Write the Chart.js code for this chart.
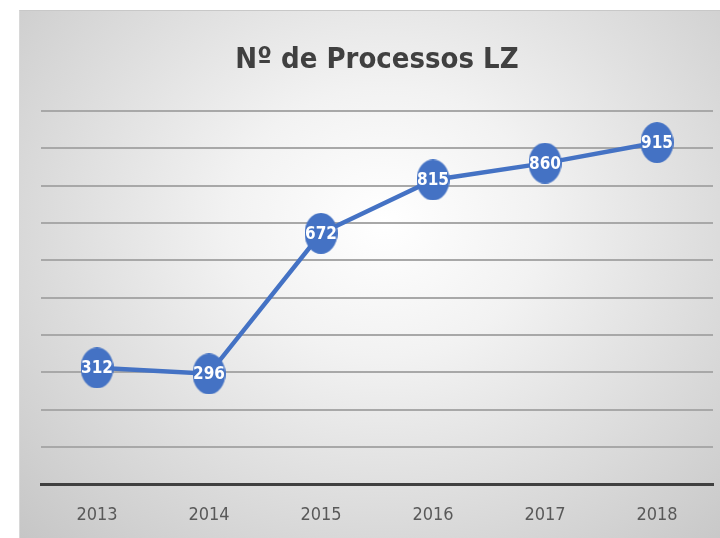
<!DOCTYPE html>
<html lang="pt">
<head>
    <meta charset="UTF-8">
    <title>Nº de Processos LZ</title>
    <script src="https://cdn.jsdelivr.net/npm/chart.js"></script>
</head>
<style>
    body {
        margin: 0;
        padding: 0;
        background: #ffffff;
        width: 720px;
        height: 538px;
        overflow: hidden;
    }

    /* caixa do gráfico */
    .caixa {
        position: absolute;
        left: 19px;
        top: 10px;
        width: 701px;
        height: 528px;
        border-top: 1px solid #c8c8c8;
        border-left: 1px solid #d8d8d8;
        box-sizing: border-box;
        background: radial-gradient(ellipse at 52% 40%, #ffffff 0%, #f2f2f2 30%, #dcdcdc 65%, #c6c6c6 100%);
    }

    canvas {
        display: block;
    }
</style>
<body>
    <div class="caixa">
        <canvas id="processos" width="700" height="527"></canvas>
    </div>

    <script>
        const anos = ['2013', '2014', '2015', '2016', '2017', '2018'];
        const processos = [312, 296, 672, 815, 860, 915];
        const escalaY = [0, 1000, 100]; // min, max, passo

        const fonteNarrow = "'Liberation Sans Narrow', 'DejaVu Sans Condensed', 'Roboto', sans-serif";
        const azul = '#4472c4';

        // marcador oval (a imagem original está um pouco esticada na vertical)
        const oval = document.createElement('canvas');
        oval.width = 33;
        oval.height = 41;
        const octx = oval.getContext('2d');
        octx.fillStyle = azul;
        octx.beginPath();
        octx.ellipse(16.5, 20.5, 16.5, 20.5, 0, 0, Math.PI * 2);
        octx.fill();

        // rótulos brancos dentro dos círculos
        const rotulos = {
            id: 'rotulos',
            afterDatasetsDraw(chart) {
                const ctx = chart.ctx;
                const meta = chart.getDatasetMeta(0);
                ctx.save();
                ctx.fillStyle = '#ffffff';
                ctx.font = 'bold 17px ' + fonteNarrow;
                ctx.textAlign = 'center';
                ctx.textBaseline = 'middle';
                meta.data.forEach((ponto, i) => {
                    ctx.fillText(chart.data.datasets[0].data[i], ponto.x, ponto.y + 1);
                });
                ctx.restore();
            }
        };

        const ctx = document.getElementById('processos').getContext('2d');
        new Chart(ctx, {
            type: 'line',
            data: {
                labels: anos,
                datasets: [{
                    label: 'Nº de Processos',
                    data: processos,
                    borderColor: azul,
                    backgroundColor: azul,
                    borderWidth: 4.5,
                    pointStyle: oval,
                    pointRadius: 17,
                    pointHoverRadius: 17,
                    pointBorderWidth: 0,
                    tension: 0,
                    clip: false
                }]
            },
            options: {
                responsive: false,
                animation: false,
                events: [],
                layout: {
                    autoPadding: false,
                    padding: { left: 21, right: 7, top: 0, bottom: -8 }
                },
                plugins: {
                    legend: { display: false },
                    tooltip: { enabled: false },
                    title: {
                        display: true,
                        text: 'Nº de Processos LZ',
                        color: '#404040',
                        font: { family: fonteNarrow, size: 29, weight: 'bold' },
                        padding: { top: 32, bottom: 33 }
                    }
                },
                scales: {
                    x: {
                        offset: true,
                        grid: { display: false, drawTicks: false },
                        border: { display: true, color: '#404040', width: 3 },
                        ticks: {
                            color: '#595959',
                            font: { family: fonteNarrow, size: 18 },
                            padding: 20
                        }
                    },
                    y: {
                        min: escalaY[0],
                        max: escalaY[1],
                        ticks: { display: false, stepSize: escalaY[2] },
                        grid: { color: '#a8a8a8', lineWidth: 2, drawTicks: false },
                        border: { display: false }
                    }
                }
            },
            plugins: [rotulos]
        });
    </script>
</body>
</html>
